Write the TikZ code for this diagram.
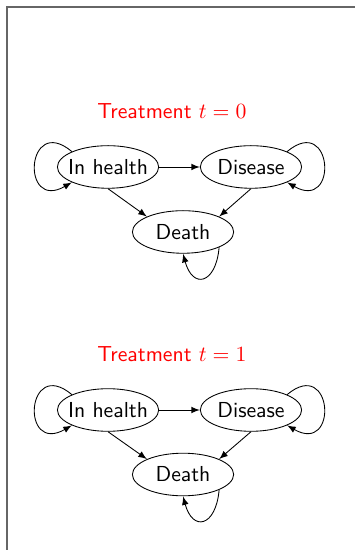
\documentclass[tikz,border=0pt]{standalone}
\usetikzlibrary{arrows,shapes.geometric}

\begin{document}
\begin{tikzpicture}[font=\sffamily,>=latex,state/.style={draw,ellipse,minimum width=1.64cm,minimum height=.69cm,inner xsep=-.8mm,inner ysep=0pt},heading/.style={text=red}]
\useasboundingbox (0,0) rectangle (5.735,8.91);
\draw[black!60,line width=.6pt] (.113,0)--(.113,8.797)--(5.8,8.797);
% treatment t=0
\node[heading] (title0) at (2.786,7.112) {Treatment $t=0$};
\node[state] (ih0) at (1.75,6.205) {In health};
\node[state] (dis0) at (4.066,6.205) {Disease};
\node[state] (dth0) at (2.965,5.152) {Death};
\draw[->] (ih0)--(dis0);
\draw[->] (ih0.south)--(dth0.north west);
\draw[->] (dis0.south)--(dth0.north east);
\draw[->] (ih0.north west) to[out=140,in=210,looseness=5] (ih0.south west);
\draw[->] (dis0.north east) to[out=40,in=-30,looseness=5] (dis0.south east);
\draw[->] (dth0.south east) to[out=-95,in=-75,looseness=2.6] (dth0.south);
% treatment t=1
\node[heading] (title1) at (2.786,3.175) {Treatment $t=1$};
\node[state] (ih1) at (1.75,2.268) {In health};
\node[state] (dis1) at (4.066,2.268) {Disease};
\node[state] (dth1) at (2.965,1.223) {Death};
\draw[->] (ih1)--(dis1);
\draw[->] (ih1.south)--(dth1.north west);
\draw[->] (dis1.south)--(dth1.north east);
\draw[->] (ih1.north west) to[out=140,in=210,looseness=5] (ih1.south west);
\draw[->] (dis1.north east) to[out=40,in=-30,looseness=5] (dis1.south east);
\draw[->] (dth1.south east) to[out=-95,in=-75,looseness=2.6] (dth1.south);
\end{tikzpicture}
\end{document}
